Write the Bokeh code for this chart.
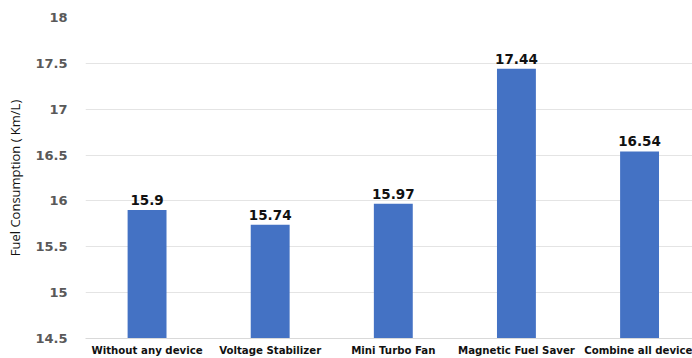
from bokeh.plotting import figure
from bokeh.models import Range1d, FixedTicker, ColumnDataSource
from bokeh.core.properties import value
from bokeh.embed import file_html
from bokeh.resources import INLINE

# Fuel consumption measured with each device setup
categories = ["Without any device", "Voltage Stabilizer", "Mini Turbo Fan",
              "Magnetic Fuel Saver", "Combine all device"]
consumption = [15.9, 15.74, 15.97, 17.44, 16.54]
y_ticks = [14.5, 15, 15.5, 16, 16.5, 17, 17.5, 18]
y_tick_labels = ["14.5", "15", "15.5", "16", "16.5", "17", "17.5", "18"]

positions = list(range(len(categories)))
source = ColumnDataSource(dict(
    x=positions,
    y=consumption,
    label=[f"{v:g}" for v in consumption],
))

p = figure(
    frame_width=607, frame_height=321,
    x_range=Range1d(-0.5, 4.43), y_range=Range1d(14.5, 18),
    output_backend="svg", toolbar_location=None,
    min_border_left=85, min_border_right=0,
    min_border_top=17, min_border_bottom=20,
)
p.outline_line_color = None
p.background_fill_color = "white"
p.border_fill_color = "white"

p.vbar(x="x", top="y", bottom=14.5, width=0.316, source=source,
       fill_color="#4472C4", line_color=None)

p.text(x="x", y="y", text="label", source=source,
       text_align="center", text_baseline="bottom", y_offset=-5,
       text_font=value("DejaVu Sans"), text_font_style="bold",
       text_font_size="13.5px", text_color="#111111")

# x axis: category names under each bar
p.xaxis.ticker = FixedTicker(ticks=positions)
p.xaxis.major_label_overrides = {i: c for i, c in enumerate(categories)}
p.xaxis.major_label_text_font = "DejaVu Sans"
p.xaxis.major_label_text_font_style = "bold"
p.xaxis.major_label_text_font_size = "10.2px"
p.xaxis.major_label_text_color = "#111111"
p.xaxis.major_tick_out = 0
p.xaxis.major_tick_in = 0
p.xaxis.major_label_standoff = 6
p.xaxis.major_tick_line_color = None
p.xaxis.minor_tick_line_color = None
p.xaxis.axis_line_color = "#d9d9d9"

# y axis
p.yaxis.ticker = FixedTicker(ticks=y_ticks)
p.yaxis.major_label_overrides = {t: s for t, s in zip(y_ticks, y_tick_labels)}
p.yaxis.major_label_text_font = "DejaVu Sans"
p.yaxis.major_label_text_font_style = "bold"
p.yaxis.major_label_text_font_size = "13px"
p.yaxis.major_label_text_color = "#595959"
p.yaxis.major_tick_out = 0
p.yaxis.major_tick_in = 0
p.yaxis.major_label_standoff = 18
p.yaxis.major_tick_line_color = None
p.yaxis.minor_tick_line_color = None
p.yaxis.axis_line_color = None
p.yaxis.axis_label = "Fuel Consumption ( Km/L)"
p.yaxis.axis_label_text_font = "Open Sans"
p.yaxis.axis_label_text_font_style = "normal"
p.yaxis.axis_label_text_font_size = "13px"
p.yaxis.axis_label_text_color = "#111111"
p.yaxis.axis_label_standoff = 8

p.xgrid.grid_line_color = None
p.ygrid.grid_line_color = "#e4e4e4"
p.ygrid.grid_line_width = 1

open("out.html", "w").write(file_html(p, INLINE))
